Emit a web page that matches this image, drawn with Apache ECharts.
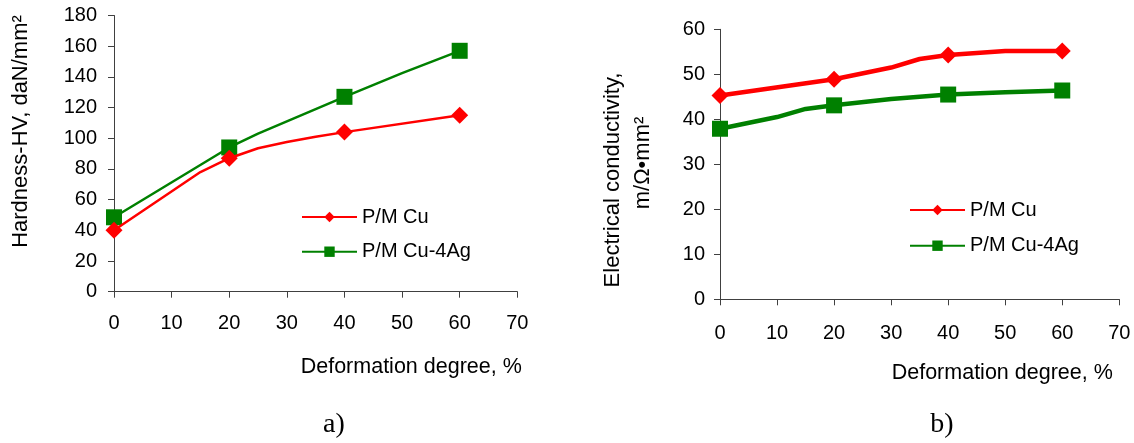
<!DOCTYPE html>
<html>
<head>
<meta charset="utf-8">
<script src="https://cdn.jsdelivr.net/npm/echarts@6/dist/echarts.min.js"></script>
<style>
html,body{margin:0;padding:0;background:#fff;}
#c{width:1134px;height:443px;}
</style>
</head>
<body>
<div id="c"></div>
<script>
// ---- data ----
const seriesNames = ['P/M Cu', 'P/M Cu-4Ag'];
const markerX = [0, 20, 40, 60];

// a) Hardness
const hvCuX = [0, 15, 20, 25, 30, 35, 40, 60];
const hvCuY = [40, 78, 87, 93.5, 97.5, 101, 104, 115];
const hvAgX = [0, 20, 25, 40, 50, 60];
const hvAgY = [48.5, 94, 103, 127, 142.5, 157];

// b) Electrical conductivity
const ecCuX = [0, 20, 30, 35, 40, 50, 60];
const ecCuY = [45.3, 48.9, 51.5, 53.4, 54.3, 55.2, 55.2];
const ecAgX = [0, 10, 15, 20, 30, 40, 50, 60];
const ecAgY = [37.9, 40.5, 42.3, 43.1, 44.5, 45.5, 46, 46.4];

const texts = {
  aY: 'Hardness-HV, daN/mm\u00B2',
  bY1: 'Electrical conductivity,',
  bY2: 'm/\u03A9\u2022mm\u00B2',
  x: 'Deformation degree, %',
  a: 'a)',
  b: 'b)'
};

// ---- build ----
const RED = '#FF0000', GREEN = '#008000', AXIS = '#404040';
const FONT = 'Liberation Sans, Arial, sans-serif';

function pts(xs, ys) {
  return xs.map((x, i) => markerX.indexOf(x) >= 0 ? [x, ys[i]] : { value: [x, ys[i]], symbol: 'none' });
}

function xAxis(gi) {
  return {
    type: 'value', gridIndex: gi, min: 0, max: 70, interval: 10,
    axisLine: { show: true, onZero: false, lineStyle: { color: AXIS, width: 1 } },
    axisTick: { show: true, length: 6, lineStyle: { color: AXIS } },
    splitLine: { show: false },
    axisLabel: { color: '#000', fontFamily: FONT, fontSize: 20, margin: gi === 0 ? 22 : 24 }
  };
}
function yAxis(gi, max, interval) {
  return {
    type: 'value', gridIndex: gi, min: 0, max: max, interval: interval,
    axisLine: { show: true, lineStyle: { color: AXIS, width: 1 } },
    axisTick: { show: true, length: 6, lineStyle: { color: AXIS } },
    splitLine: { show: false },
    axisLabel: { color: '#000', fontFamily: FONT, fontSize: 20, margin: gi === 0 ? 17 : 15 }
  };
}
function line(prefix, name, gi, xs, ys, color, symbol, size, width) {
  return {
    type: 'line', name: prefix + name, xAxisIndex: gi, yAxisIndex: gi,
    data: pts(xs, ys), symbol: symbol, symbolSize: size, showSymbol: true,
    itemStyle: { color: color }, lineStyle: { color: color, width: width },
    animation: false, z: symbol === 'diamond' ? 3 : 2
  };
}
function legend(prefix, left, top, gap) {
  return {
    data: seriesNames.map(n => prefix + n), orient: 'vertical', left: left, top: top,
    itemWidth: 55, itemHeight: 13, itemGap: gap, padding: 0,
    formatter: n => n.slice(prefix.length),
    textStyle: { color: '#000', fontFamily: FONT, fontSize: 20, padding: [0, 0, 0, 0] },
    selectedMode: false
  };
}
function txt(x, y, text, opts) {
  return {
    type: 'text', x: x, y: y, silent: true,
    style: Object.assign({ text: text, fill: '#000', font: '21.5px ' + FONT, textAlign: 'center', textVerticalAlign: 'middle' }, opts || {})
  };
}

const option = {
  backgroundColor: '#fff',
  animation: false,
  grid: [
    { left: 114, top: 15.5, width: 403.3, height: 276.2 },
    { left: 720, top: 29.3, width: 399.3, height: 270 }
  ],
  xAxis: [xAxis(0), xAxis(1)],
  yAxis: [yAxis(0, 180, 20), yAxis(1, 60, 10)],
  legend: [legend('a|', 301, 207, 14.7), legend('b|', 909, 200, 15.7)],
  series: [
    line('a|', seriesNames[0], 0, hvCuX, hvCuY, RED, 'diamond', 17, 2.5),
    line('a|', seriesNames[1], 0, hvAgX, hvAgY, GREEN, 'rect', 16, 2.5),
    line('b|', seriesNames[0], 1, ecCuX, ecCuY, RED, 'diamond', 17, 4.5),
    line('b|', seriesNames[1], 1, ecAgX, ecAgY, GREEN, 'rect', 16, 4.5)
  ],
  graphic: [
    Object.assign(txt(21, 131.5, texts.aY, { font: '22px ' + FONT }), { rotation: Math.PI / 2 }),
    Object.assign(txt(612.7, 180, texts.bY1, { font: '22px ' + FONT }), { rotation: Math.PI / 2 }),
    Object.assign(txt(643.3, 163, texts.bY2, { font: '22px ' + FONT }), { rotation: Math.PI / 2 }),
    txt(300.7, 366.7, texts.x, { textAlign: 'left' }),
    txt(891.7, 373, texts.x, { textAlign: 'left' }),
    txt(334, 425, texts.a, { font: '28px Liberation Serif, Times New Roman, serif' }),
    txt(942, 425, texts.b, { font: '28px Liberation Serif, Times New Roman, serif' })
  ]
};

const chart = echarts.init(document.getElementById('c'), null, { renderer: 'canvas' });
chart.setOption(option);
</script>
</body>
</html>
